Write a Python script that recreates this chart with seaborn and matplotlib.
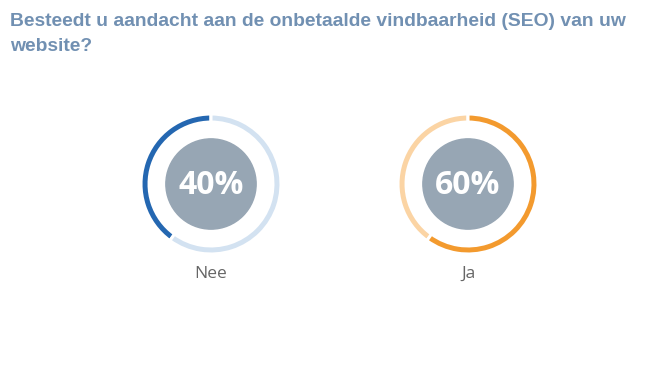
import matplotlib
matplotlib.use("Agg")
import matplotlib.pyplot as plt
import seaborn as sns
from matplotlib.patches import Circle

# --- data ---
answers = ["Nee", "Ja"]
shares = [40, 60]
dark_colors = ["#2467B1", "#F39A2E"]
light_colors = ["#D3E2F1", "#FBD4A4"]

title = "Besteedt u aandacht aan de onbetaalde vindbaarheid (SEO) van uw\nwebsite?"

sns.set_style("white")
plt.rcParams["font.family"] = ["Open Sans", "DejaVu Sans"]

W, H = 652, 365
fig = plt.figure(figsize=(W / 100, H / 100), dpi=100)
fig.patch.set_facecolor("white")

fig.text(10 / W, 1 - 13 / H, title, ha="left", va="top",
         fontsize=13.9, fontweight="bold", color="#7190B2",
         family=["Liberation Sans", "DejaVu Sans"], linespacing=1.6)

centers_x = [211, 468]
center_y = 184
r_px = 70

for i, (name, cx) in enumerate(zip(answers, centers_x)):
    ax = fig.add_axes([(cx - r_px) / W, (H - center_y - r_px) / H,
                       2 * r_px / W, 2 * r_px / H])
    # both rings share the same split, only the highlighted slice changes
    cols = [dark_colors[i] if j == i else light_colors[i] for j in range(len(shares))]
    ax.pie(shares, colors=cols, startangle=90, counterclock=True,
           radius=1.0,
           wedgeprops=dict(width=0.115, edgecolor="white", linewidth=2.2))
    ax.add_patch(Circle((0, 0), 0.645, color="#97A6B4", zorder=3))
    ax.text(0, -0.02, f"{shares[i]}%", ha="center", va="center",
            fontsize=23, fontweight="bold", color="white", zorder=4)
    ax.set_xlim(-1, 1)
    ax.set_ylim(-1, 1)
    ax.set_aspect("equal")
    ax.axis("off")
    fig.text(cx / W, 1 - 274 / H, name, ha="center", va="center",
             fontsize=12.5, color="#666666")

fig.savefig("out.png", dpi=100, facecolor="white")
